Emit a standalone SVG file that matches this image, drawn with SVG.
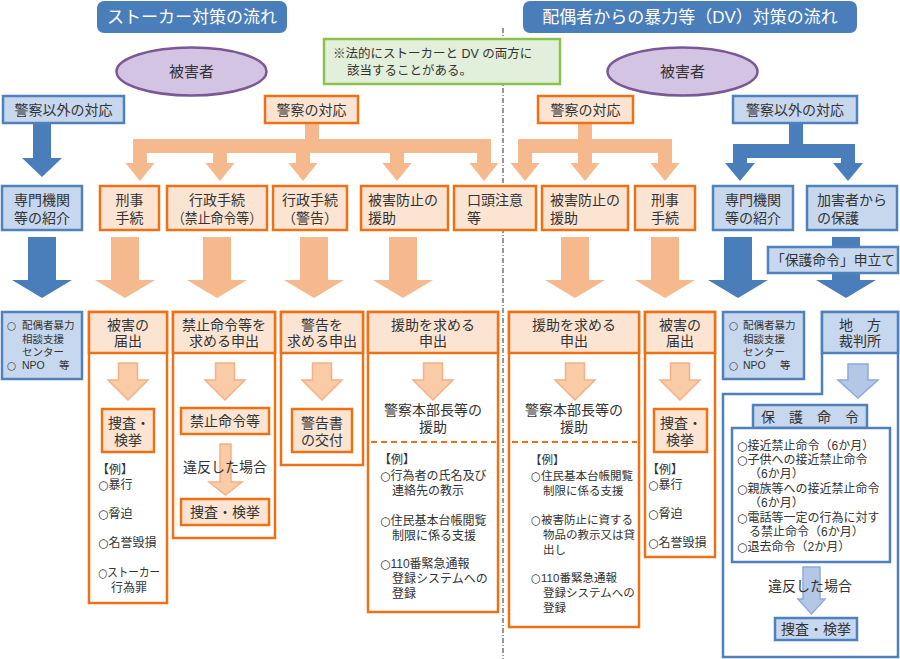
<svg xmlns="http://www.w3.org/2000/svg" width="900" height="659" viewBox="0 0 900 659">
<style>
text{font-family:"Liberation Sans","Noto Sans CJK JP",sans-serif;fill:#333}
.cj{font-family:"DejaVu Sans","Noto Sans CJK JP",sans-serif}
.f17{font-size:17px;fill:#fff}
.f15{font-size:15px}
.f14{font-size:14px}
.f12{font-size:12px}
.f115{font-size:11.5px}
.f105{font-size:10.5px}
.c{text-anchor:middle}
.ob{fill:#fce4d2;stroke:#ef7116;stroke-width:2.5}
.ow{fill:#fff;stroke:#ef7116;stroke-width:2.5}
.bb{fill:#c6d7ee;stroke:#4f81bd;stroke-width:2.5}
.bw{fill:#fff;stroke:#4f81bd;stroke-width:2.5}
.oa{fill:#f5b98d}
.ba{fill:#4a7ebb}
.osa{fill:#f9cba6;stroke:#f4b183;stroke-width:1.5}
.bsa{fill:#b4c7e7;stroke:#8eaadb;stroke-width:1.5}
.dash{stroke:#ef7116;stroke-width:2;stroke-dasharray:6 4;fill:none}
</style>

<!-- divider -->
<line x1="503" y1="28" x2="503" y2="659" stroke="#555" stroke-width="1.2" stroke-dasharray="5 2 1 2"/>

<!-- titles -->
<g id="title-stalker">
<rect x="97" y="1" width="190" height="32" rx="7" fill="#4a7ebb"/>
<text class="f17 c" x="192" y="23">ストーカー対策の流れ</text>
</g>
<g id="title-dv">
<rect x="523" y="1" width="334" height="32" rx="7" fill="#4a7ebb"/>
<text class="f17 c" x="690" y="23">配偶者からの暴力等（DV）対策の流れ</text>
</g>

<g id="note">
<rect x="324" y="39" width="236" height="45" fill="#e2efda" stroke="#8cc152" stroke-width="2.5"/>
<text x="333" y="58" style="font-size:12.5px">※法的にストーカーと DV の両方に</text>
<text x="347" y="75" style="font-size:12.5px">該当することがある。</text>
</g>

<g id="victim-left">
<ellipse cx="191.5" cy="71.5" rx="75" ry="24" fill="#d4c4e3" stroke="#7a5796" stroke-width="2.5"/>
<text class="f15 c" x="191.5" y="77">被害者</text>
</g>
<g id="victim-right">
<ellipse cx="682.5" cy="71.5" rx="75" ry="24" fill="#d4c4e3" stroke="#7a5796" stroke-width="2.5"/>
<text class="f15 c" x="682.5" y="77">被害者</text>
</g>

<!-- connectors -->
<g id="connectors">
<rect class="ba" x="33" y="123" width="18" height="36"/>
<polygon class="ba" points="22,158 62,158 42,177"/>
<rect class="oa" x="305" y="123" width="14" height="17"/>
<rect class="oa" x="133" y="139" width="358" height="14"/>
<rect class="oa" x="133" y="152" width="14" height="12"/><polygon class="oa" points="125.5,163 154.5,163 140,181"/>
<rect class="oa" x="213" y="152" width="14" height="12"/><polygon class="oa" points="205.5,163 234.5,163 220,181"/>
<rect class="oa" x="296" y="152" width="14" height="12"/><polygon class="oa" points="288.5,163 317.5,163 303,181"/>
<rect class="oa" x="390" y="152" width="14" height="12"/><polygon class="oa" points="382.5,163 411.5,163 397,181"/>
<rect class="oa" x="477" y="152" width="14" height="12"/><polygon class="oa" points="469.5,163 498.5,163 484,181"/>
<rect class="oa" x="578" y="123" width="14" height="17"/>
<rect class="oa" x="518" y="139" width="154" height="14"/>
<rect class="oa" x="518" y="152" width="14" height="12"/><polygon class="oa" points="510.5,163 539.5,163 525,181"/>
<rect class="oa" x="578" y="152" width="14" height="12"/><polygon class="oa" points="570.5,163 599.5,163 585,181"/>
<rect class="oa" x="658" y="152" width="14" height="12"/><polygon class="oa" points="650.5,163 679.5,163 665,181"/>
<rect class="ba" x="789" y="123" width="14" height="22"/>
<rect class="ba" x="733" y="144" width="122" height="14"/>
<rect class="ba" x="733" y="157" width="14" height="7"/><polygon class="ba" points="725,163 755,163 740,181"/>
<rect class="ba" x="841" y="157" width="14" height="7"/><polygon class="ba" points="833,163 863,163 848,181"/>
<rect class="ba" x="28" y="237" width="28" height="44"/><polygon class="ba" points="12,280 72,280 42,298"/>
<rect class="oa" x="111" y="237" width="28" height="44"/><polygon class="oa" points="95,280 155,280 125,298"/>
<rect class="oa" x="203" y="237" width="28" height="44"/><polygon class="oa" points="187,280 247,280 217,298"/>
<rect class="oa" x="300" y="237" width="28" height="44"/><polygon class="oa" points="284,280 344,280 314,298"/>
<rect class="oa" x="389" y="237" width="28" height="44"/><polygon class="oa" points="373,280 433,280 403,298"/>
<rect class="oa" x="561" y="237" width="28" height="44"/><polygon class="oa" points="545,280 605,280 575,298"/>
<rect class="oa" x="651" y="237" width="28" height="44"/><polygon class="oa" points="635,280 695,280 665,298"/>
<rect class="ba" x="724" y="237" width="28" height="44"/><polygon class="ba" points="708,280 768,280 738,298"/>
<rect class="ba" x="832" y="237" width="28" height="44"/><polygon class="ba" points="816,280 876,280 846,298"/>
</g>

<!-- row 1 -->
<g id="nonpolice-left">
<rect class="bb" x="3" y="96" width="121" height="27"/>
<text class="f14 c" x="63.5" y="115">警察以外の対応</text>
</g>
<g id="police-left">
<rect class="ob" x="265" y="96" width="93" height="27"/>
<text class="f14 c" x="311.5" y="115">警察の対応</text>
</g>
<g id="police-right">
<rect class="ob" x="538" y="96" width="95" height="27"/>
<text class="f14 c" x="585.5" y="115">警察の対応</text>
</g>
<g id="nonpolice-right">
<rect class="bb" x="733" y="96" width="124" height="27"/>
<text class="f14 c" x="795" y="115">警察以外の対応</text>
</g>

<!-- row 2 -->
<g id="referral-left">
<rect class="bb" x="2" y="186" width="80" height="44"/>
<text class="f14 c" x="42" y="205">専門機関</text>
<text class="f14 c" x="42" y="223">等の紹介</text>
</g>
<g id="criminal-left">
<rect class="ob" x="100" y="186" width="59" height="44"/>
<text class="f14 c" x="129.5" y="205">刑事</text>
<text class="f14 c" x="129.5" y="223">手続</text>
</g>
<g id="admin-ban">
<rect class="ob" x="167" y="186" width="100" height="44"/>
<text class="f14 c" x="217" y="205">行政手続</text>
<text class="f14 c" x="217" y="223" textLength="90" lengthAdjust="spacingAndGlyphs">（禁止命令等）</text>
</g>
<g id="admin-warning">
<rect class="ob" x="273" y="186" width="74" height="44"/>
<text class="f14 c" x="310" y="205">行政手続</text>
<text class="f14 c" x="310" y="223">（警告）</text>
</g>
<g id="assist-left">
<rect class="ob" x="361" y="186" width="87" height="44"/>
<text class="f14" x="368" y="205">被害防止の</text>
<text class="f14" x="368" y="223">援助</text>
</g>
<g id="verbal-warning">
<rect class="ob" x="454" y="186" width="82" height="44"/>
<text class="f14" x="467" y="205">口頭注意</text>
<text class="f14" x="467" y="223">等</text>
</g>
<g id="assist-right">
<rect class="ob" x="542" y="186" width="86" height="44"/>
<text class="f14" x="550" y="205">被害防止の</text>
<text class="f14" x="550" y="223">援助</text>
</g>
<g id="criminal-right">
<rect class="ob" x="635" y="186" width="60" height="44"/>
<text class="f14 c" x="665" y="205">刑事</text>
<text class="f14 c" x="665" y="223">手続</text>
</g>
<g id="referral-right">
<rect class="bb" x="713" y="186" width="80" height="44"/>
<text class="f14 c" x="753" y="205">専門機関</text>
<text class="f14 c" x="753" y="223">等の紹介</text>
</g>
<g id="protection-from-abuser">
<rect class="bb" x="807" y="186" width="90" height="44"/>
<text class="f14" x="817" y="205">加害者から</text>
<text class="f14" x="817" y="223">の保護</text>
</g>
<g id="petition">
<rect class="bb" x="768" y="247" width="130" height="26"/>
<text class="f14 c" x="833" y="265" textLength="124" lengthAdjust="spacingAndGlyphs">「保護命令」申立て</text>
</g>

<!-- row 3 -->
<g id="info-left">
<rect class="bb" x="2" y="312" width="80" height="67"/>
<text class="f105 cj" x="7" y="329">○</text><text class="f105" x="22" y="329">配偶者暴力</text>
<text class="f105" x="22" y="343">相談支援</text>
<text class="f105" x="22" y="356">センター</text>
<text class="f105 cj" x="7" y="369">○</text><text class="f105" x="22" y="369">NPO</text><text class="f105" x="59" y="369">等</text>
</g>

<g id="report-left">
<rect class="ow" x="89" y="312" width="78" height="291"/>
<rect class="ob" x="89" y="312" width="78" height="41"/>
<text class="f14 c" x="128" y="330">被害の</text>
<text class="f14 c" x="128" y="346">届出</text>
<polygon class="osa" points="118.5,363 137.5,363 137.5,380 148,380 128,400 108,380 118.5,380"/>
<rect class="ob" x="102" y="409" width="52" height="43"/>
<text class="f14 c" x="129" y="428">捜査・</text>
<text class="f14 c" x="128" y="445">検挙</text>
<text class="f12" x="97" y="474">【例】</text>
<text class="f12" x="98" y="489"><tspan class="cj">○</tspan>暴行</text>
<text class="f12" x="98" y="518"><tspan class="cj">○</tspan>脅迫</text>
<text class="f12" x="98" y="547"><tspan class="cj">○</tspan>名誉毀損</text>
<text class="f12" x="98" y="577" textLength="62" lengthAdjust="spacingAndGlyphs"><tspan class="cj">○</tspan>ストーカー</text>
<text class="f12" x="111" y="592">行為罪</text>
</g>

<g id="request-ban">
<rect class="ow" x="173" y="312" width="102" height="226"/>
<rect class="ob" x="173" y="312" width="102" height="41"/>
<text class="f14 c" x="224" y="330">禁止命令等を</text>
<text class="f14 c" x="224" y="346">求める申出</text>
<polygon class="osa" points="215.5,363 234.5,363 234.5,380 245,380 225,400 205,380 215.5,380"/>
<rect class="ob" x="181" y="408" width="88" height="26"/>
<text class="f14 c" x="225" y="426">禁止命令等</text>
<polygon class="osa" points="220,444 231,444 231,482 242,482 225.5,495 209,482 220,482"/>
<text class="f14" x="183" y="472">違反した場合</text>
<rect class="ob" x="181" y="499" width="88" height="26"/>
<text class="f14 c" x="225" y="517">捜査・検挙</text>
</g>

<g id="request-warning">
<rect class="ow" x="281" y="312" width="82" height="153"/>
<rect class="ob" x="281" y="312" width="82" height="41"/>
<text class="f14 c" x="322" y="330">警告を</text>
<text class="f14 c" x="322" y="346">求める申出</text>
<polygon class="osa" points="312.5,363 331.5,363 331.5,380 342,380 322,400 302,380 312.5,380"/>
<rect class="ob" x="292" y="409" width="60" height="43"/>
<text class="f14 c" x="322" y="428">警告書</text>
<text class="f14 c" x="322" y="445">の交付</text>
</g>

<g id="request-assist-left">
<rect class="ow" x="368" y="312" width="130" height="300"/>
<rect class="ob" x="368" y="312" width="130" height="41"/>
<text class="f14 c" x="433" y="330">援助を求める</text>
<text class="f14 c" x="433" y="346">申出</text>
<polygon class="osa" points="423.5,363 442.5,363 442.5,380 453,380 433,400 413,380 423.5,380"/>
<text class="f14 c" x="433" y="415">警察本部長等の</text>
<text class="f14 c" x="433" y="432">援助</text>
<line class="dash" x1="371" y1="442" x2="496" y2="442"/>
<text class="f12" x="379" y="464">【例】</text>
<text class="f12" x="380" y="480"><tspan class="cj">○</tspan>行為者の氏名及び</text>
<text class="f12" x="392" y="495">連絡先の教示</text>
<text class="f12" x="380" y="525"><tspan class="cj">○</tspan>住民基本台帳閲覧</text>
<text class="f12" x="392" y="540">制限に係る支援</text>
<text class="f12" x="380" y="568"><tspan class="cj">○</tspan>110番緊急通報</text>
<text class="f12" x="392" y="583">登録システムへの</text>
<text class="f12" x="392" y="598">登録</text>
</g>

<g id="request-assist-right">
<rect class="ow" x="509" y="312" width="130" height="315"/>
<rect class="ob" x="509" y="312" width="130" height="41"/>
<text class="f14 c" x="574" y="330">援助を求める</text>
<text class="f14 c" x="574" y="346">申出</text>
<polygon class="osa" points="565.5,363 584.5,363 584.5,380 595,380 575,400 555,380 565.5,380"/>
<text class="f14 c" x="574" y="415">警察本部長等の</text>
<text class="f14 c" x="574" y="432">援助</text>
<line class="dash" x1="512" y1="442" x2="637" y2="442"/>
<text class="f115" x="530" y="464">【例】</text>
<text class="f115" x="531" y="480"><tspan class="cj">○</tspan>住民基本台帳閲覧</text>
<text class="f115" x="543" y="495">制限に係る支援</text>
<text class="f115" x="531" y="524"><tspan class="cj">○</tspan>被害防止に資する</text>
<text class="f115" x="543" y="539">物品の教示又は貸</text>
<text class="f115" x="543" y="554">出し</text>
<text class="f115" x="531" y="582"><tspan class="cj">○</tspan>110番緊急通報</text>
<text class="f115" x="543" y="597">登録システムへの</text>
<text class="f115" x="543" y="612">登録</text>
</g>

<g id="report-right">
<rect class="ow" x="645" y="312" width="70" height="245"/>
<rect class="ob" x="645" y="312" width="70" height="41"/>
<text class="f14 c" x="680" y="330">被害の</text>
<text class="f14 c" x="680" y="346">届出</text>
<polygon class="osa" points="670.5,363 689.5,363 689.5,380 700,380 680,400 660,380 670.5,380"/>
<rect class="ob" x="654" y="409" width="53" height="43"/>
<text class="f14 c" x="681" y="428">捜査・</text>
<text class="f14 c" x="680" y="445">検挙</text>
<text class="f12" x="647" y="474">【例】</text>
<text class="f12" x="648" y="489"><tspan class="cj">○</tspan>暴行</text>
<text class="f12" x="648" y="518"><tspan class="cj">○</tspan>脅迫</text>
<text class="f12" x="648" y="547"><tspan class="cj">○</tspan>名誉毀損</text>
</g>

<g id="info-right">
<rect class="bb" x="723" y="312" width="81" height="67"/>
<text class="f105 cj" x="729" y="329">○</text><text class="f105" x="743" y="329">配偶者暴力</text>
<text class="f105" x="743" y="343">相談支援</text>
<text class="f105" x="743" y="356">センター</text>
<text class="f105 cj" x="729" y="369">○</text><text class="f105" x="743" y="369">NPO</text><text class="f105" x="780" y="369">等</text>
</g>

<g id="district-court">
<path class="bw" d="M822,312 H898 V657 H723 V394 H822 Z"/>
<rect class="bb" x="822" y="312" width="76" height="41"/>
<text class="f14 c" x="860" y="330">地　方</text>
<text class="f14 c" x="860" y="346">裁判所</text>
<polygon class="bsa" points="848,364 868,364 868,380 878,380 858,398 838,380 848,380"/>
<rect class="bb" x="753" y="405" width="114" height="23"/>
<text class="f14 c" x="810" y="422">保　護　命　令</text>
<rect class="bw" x="732" y="428" width="158" height="134"/>
<text class="f12" x="737" y="449.5"><tspan class="cj">○</tspan>接近禁止命令（6か月）</text>
<text class="f12" x="737" y="464"><tspan class="cj">○</tspan>子供への接近禁止命令</text>
<text class="f12" x="749" y="478">（6か月）</text>
<text class="f12" x="737" y="493"><tspan class="cj">○</tspan>親族等への接近禁止命令</text>
<text class="f12" x="749" y="507">（6か月）</text>
<text class="f12" x="737" y="522"><tspan class="cj">○</tspan>電話等一定の行為に対す</text>
<text class="f12" x="749" y="536">る禁止命令（6か月）</text>
<text class="f12" x="737" y="551"><tspan class="cj">○</tspan>退去命令（2か月）</text>
<polygon class="bsa" points="803,567 820,567 820,599 825,599 811.5,614 798,599 803,599"/>
<text class="f14 c" x="810" y="591">違反した場合</text>
<rect class="bb" x="775" y="618" width="82" height="22"/>
<text class="f14 c" x="816" y="634">捜査・検挙</text>
</g>
</svg>
